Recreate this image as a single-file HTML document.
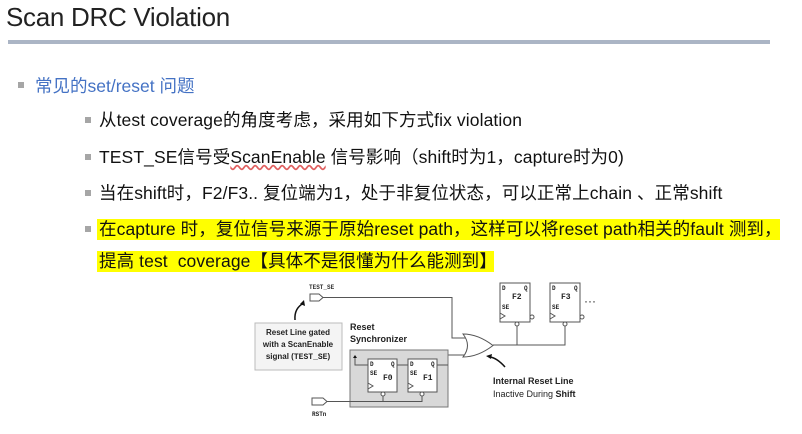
<!DOCTYPE html>
<html><head><meta charset="utf-8"><style>
body{margin:0;width:802px;height:434px;background:#fff;position:relative;overflow:hidden;font-family:"Liberation Sans","Noto Sans CJK SC",sans-serif}
.t{position:absolute;white-space:nowrap}
.title{left:6px;top:2px;font-size:26px;color:#222;letter-spacing:-0.3px}
.rule{position:absolute;left:8px;top:40px;width:762px;height:4px;background:#abb5c5}
.sq{position:absolute;width:6px;height:6px;background:#a6a6a6}
.l2{font-size:17.5px;color:#111;left:99px;letter-spacing:0.1px}
.hl{position:absolute;background:#ffff00}
</style></head><body>
<div class="t title">Scan DRC Violation</div>
<div class="rule"></div>
<div class="sq" style="left:18px;top:82px"></div>
<div class="t" style="left:35px;top:73px;font-size:17.5px;color:#4472c4">常见的set/reset 问题</div>
<div class="sq" style="left:85px;top:117px"></div>
<div class="t l2" style="top:107px">从test coverage的角度考虑，采用如下方式fix violation</div>
<div class="sq" style="left:85px;top:154px"></div>
<div class="t l2" style="top:144px">TEST_SE信号受<span style="text-decoration:underline wavy #e06060">ScanEnable</span> 信号影响（shift时为1，capture时为0)</div>
<div class="sq" style="left:85px;top:190px"></div>
<div class="t l2" style="top:180px">当在shift时，F2/F3.. 复位端为1，处于非复位状态，可以正常上chain 、正常shift</div>
<div class="hl" style="left:97px;top:219px;width:683px;height:21px"></div>
<div class="hl" style="left:97px;top:251px;width:397px;height:21px"></div>
<div class="sq" style="left:85px;top:226px"></div>
<div class="t l2" style="top:216px">在capture 时，复位信号来源于原始reset path，这样可以将reset path相关的fault 测到，</div>
<div class="t l2" style="top:248px">提高 test&nbsp; coverage【具体不是很懂为什么能测到】</div>

<svg style="position:absolute;left:0;top:0" width="802" height="434" font-family="Liberation Sans" >
<g stroke="#555" fill="none" stroke-width="1">
<text x="309" y="289" font-size="6" font-family="Liberation Mono" fill="#333" stroke="none" font-weight="bold">TEST_SE</text>
<path d="M310 294h9l4 3.5l-4 3.5h-9z" fill="#fff"/>
<path d="M323 297.5H452V338H468"/>
<path d="M448 365V355H468"/>
<path d="M463 334Q478 334 493 345.5Q478 357 463 357Q472 345.5 463 334z" fill="#fff"/>
<path d="M493 345H565V326M517 345V326"/>
<rect x="350" y="350" width="98" height="57" fill="#d8d8d8" stroke="#777"/>
<rect x="368" y="359" width="29" height="33" fill="#fff"/>
<rect x="408" y="359" width="29" height="33" fill="#fff"/>
<path d="M397 365H408M437 365H448"/>
<path d="M368 365H355V357"/>
<path d="M312 398h11l4 3.5l-4 3.5h-11z" fill="#fff"/>
<path d="M327 401.5H422V395M383 401.5V395"/>
<circle cx="383" cy="394" r="2" fill="#fff"/><circle cx="422" cy="394" r="2" fill="#fff"/>
<path d="M368 383l5 3l-5 3M408 383l5 3l-5 3"/>
<rect x="500" y="283" width="30" height="39" fill="#fff"/>
<rect x="550" y="283" width="30" height="39" fill="#fff"/>
<circle cx="517" cy="324" r="2" fill="#fff"/><circle cx="565" cy="324" r="2" fill="#fff"/>
<circle cx="532" cy="317" r="2" fill="#fff"/><circle cx="582" cy="317" r="2" fill="#fff"/>
<path d="M500 313l5 3l-5 3M550 313l5 3l-5 3"/>
<rect x="255" y="323" width="87" height="47" fill="#f4f4f4" stroke="#bbb"/>
<path d="M295 320Q294 308 304 303" stroke="#111" stroke-width="1.5"/>
<path d="M505 367Q497 358 490 357" stroke="#111" stroke-width="1.5"/>
</g>
<path d="M304 300l1 6l-5-2z" fill="#111"/><path d="M486 356l6-2l-1 5z" fill="#111"/><path d="M355 355l-2 3h4z" fill="#111"/>
<g font-family="Liberation Mono" font-size="6" fill="#222" font-weight="bold">
<text x="370" y="366">D</text><text x="391" y="366">Q</text><text x="370" y="375">SE</text><text x="383" y="380" font-size="8">F0</text>
<text x="410" y="366">D</text><text x="431" y="366">Q</text><text x="410" y="375">SE</text><text x="423" y="380" font-size="8">F1</text>
<text x="502" y="290">D</text><text x="524" y="290">Q</text><text x="502" y="309">SE</text><text x="512" y="299" font-size="8">F2</text>
<text x="552" y="290">D</text><text x="574" y="290">Q</text><text x="552" y="309">SE</text><text x="561" y="299" font-size="8">F3</text>
<text x="312" y="416">RSTn</text>
</g>
<text x="584" y="305" font-size="12" fill="#222">···</text>
<g font-size="8" font-weight="bold" fill="#222" text-anchor="middle">
<text x="298" y="335">Reset Line gated</text><text x="298" y="347">with a ScanEnable</text><text x="298" y="359">signal (<tspan font-family="Liberation Mono">TEST_SE</tspan>)</text>
</g>
<text x="350" y="330" font-size="9" font-weight="bold" fill="#222">Reset</text>
<text x="350" y="342" font-size="9" font-weight="bold" fill="#222">Synchronizer</text>
<text x="493" y="384" font-size="9" font-weight="bold" fill="#222">Internal Reset Line</text>
<text x="493" y="397" font-size="9" fill="#222">Inactive During <tspan font-weight="bold">Shift</tspan></text>
</svg>
</body></html>
